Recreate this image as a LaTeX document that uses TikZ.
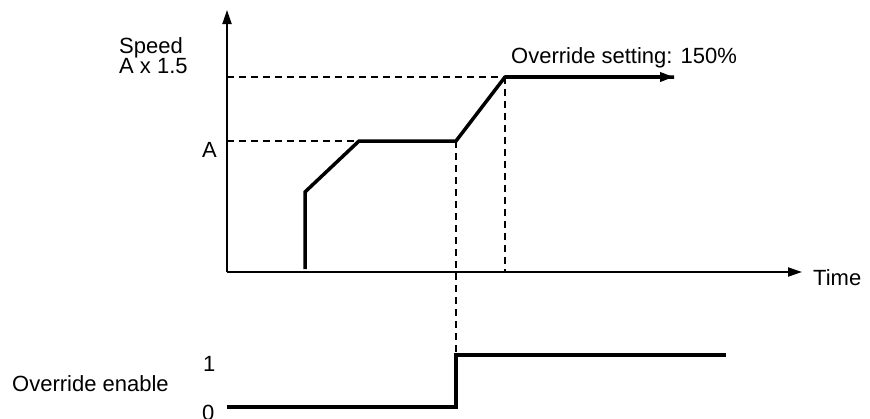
\documentclass[tikz,border=0pt]{standalone}
\usepackage{fontspec}
\setmainfont{Liberation Sans}
\usetikzlibrary{arrows.meta}
\begin{document}
\begin{tikzpicture}[x=1pt,y=-1pt,
  axisline/.style={line width=2pt,-{Triangle[length=14pt,width=9pt]}},
  curveline/.style={line width=3.5pt,line join=miter},
  guide/.style={line width=1.8pt,dash pattern=on 7pt off 5pt},
  lbl/.style={anchor=base west,inner sep=0pt,font=\fontsize{22}{22}\selectfont}]
\useasboundingbox (0,0) rectangle (870,418);
% axes
\coordinate (O) at (227,272);
\coordinate (ytop) at (227,10);
\coordinate (xend) at (802,272);
\draw[axisline] (O) -- (ytop);
\draw[axisline] (O) -- (xend);
% levels
\coordinate (yA) at (227,141);
\coordinate (yB) at (227,77);
% speed curve
\coordinate (p0) at (305,269);
\coordinate (p1) at (305,192);
\coordinate (p2) at (359,141);
\coordinate (p3) at (456,141);
\coordinate (p4) at (505,77);
\coordinate (p5) at (674,77);
\coordinate (x4) at (505,272);
% enable signal
\coordinate (s0) at (227,407);
\coordinate (s1) at (456,407);
\coordinate (s2) at (456,355);
\coordinate (s3) at (726,355);
% guides
\draw[guide] (yA) -- (p2);
\draw[guide] (yB) -- (p4);
\draw[guide] (p3) -- (s2);
\draw[guide] (p4) -- (x4);
% curves
\draw[curveline] (p0) -- (p1) -- (p2) -- (p3) -- (p4) -- (p5);
\draw[curveline,-{Triangle[length=14pt,width=9pt]}] (p4) -- (p5);
\draw[curveline] (s0) -- (s1) -- (s2) -- (s3);
% labels
\node[lbl] (speed) at (119,53) {Speed};
\node[lbl] (speedB) at (119,73) {A x 1.5};
\node[lbl] (labA) at (202,157) {A};
\node[lbl] (ovs) at (511,63) {Override setting: 150\%};
\node[lbl] (time) at (813,285) {Time};
\node[lbl] (ove) at (12,391) {Override enable};
\node[lbl] (one) at (203,371) {1};
\node[lbl] (zero) at (202,420) {0};
\end{tikzpicture}
\end{document}
